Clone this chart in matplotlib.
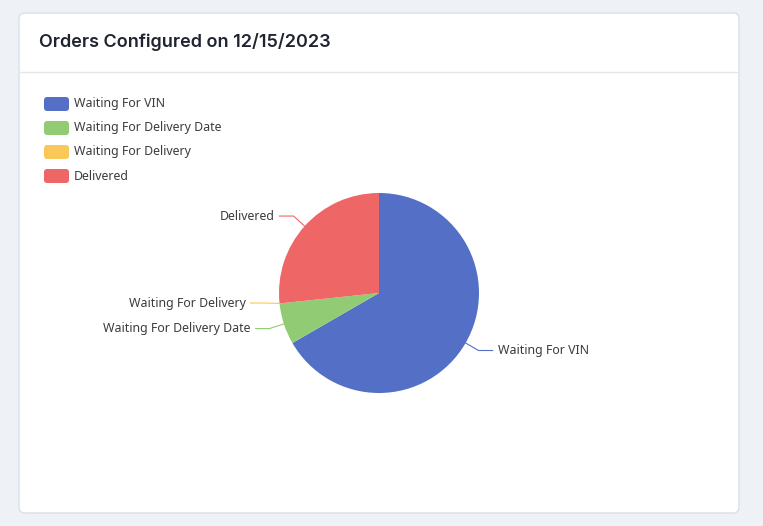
import numpy as np
import matplotlib
matplotlib.use('Agg')
import matplotlib.pyplot as plt
from matplotlib.patches import FancyBboxPatch

# dados do grafico
categorias = ['Waiting For VIN', 'Waiting For Delivery Date', 'Waiting For Delivery', 'Delivered']
valores = [20, 2, 0, 8]
cores = ['#5470c6', '#91cc75', '#fac858', '#ee6666']
titulo = 'Orders Configured on 12/15/2023'

W, H = 763, 526
fig = plt.figure(figsize=(W / 100, H / 100), dpi=100)
fig.patch.set_facecolor('#eef1f5')
ax = fig.add_axes([0, 0, 1, 1])
ax.set_xlim(0, W)
ax.set_ylim(0, H)
ax.set_aspect('equal')
ax.axis('off')


def py(y):
    # converte y de pixel (topo) para coordenada do eixo
    return H - y


# cartao
card = FancyBboxPatch((19, py(513)), 720, 500, boxstyle='round,pad=0,rounding_size=6',
                      facecolor='white', edgecolor='#dcdfe6', linewidth=1, zorder=1)
ax.add_patch(card)
ax.plot([19.5, 738.5], [py(72), py(72)], color='#e4e7ec', linewidth=1, zorder=2)
ax.text(39, py(42), titulo, fontsize=13, fontweight='semibold', family='Inter',
        color='#1f2430', va='center', ha='left', zorder=3)

# legenda
for i, (cat, cor) in enumerate(zip(categorias, cores)):
    yc = 104 + i * 24
    leg = FancyBboxPatch((44, py(yc + 7)), 25, 14, boxstyle='round,pad=0,rounding_size=3',
                         facecolor=cor, edgecolor='none', zorder=3)
    ax.add_patch(leg)
    ax.text(74, py(yc), cat, fontsize=8.9, family='Noto Sans', color='#3c3c3c',
            va='center', ha='left', zorder=3)

# pizza
cx, cy, r = 379, 293, 100
ax.pie(valores, colors=cores, startangle=90, counterclock=False, radius=r,
       center=(cx, py(cy)), frame=True, wedgeprops=dict(linewidth=0, zorder=4))
ax.set_xlim(0, W)
ax.set_ylim(0, H)
ax.axis('off')

# linhas de rotulo
total = sum(valores)
acum = 0
ajuste_y = {'Waiting For VIN': 0, 'Waiting For Delivery Date': 0,
            'Waiting For Delivery': -2, 'Delivered': 0}
for cat, v, cor in zip(categorias, valores, cores):
    meio = (acum + v / 2) / total * 360
    acum += v
    ang = np.deg2rad(meio)
    dx, dy = np.sin(ang), -np.cos(ang)
    x0, y0 = cx + dx * r, cy + dy * r
    x1, y1 = cx + dx * (r + 15), cy + dy * (r + 15) + ajuste_y[cat]
    lado = 1 if dx > 0 else -1
    x2 = x1 + lado * 14
    ax.plot([x0, x1, x2], [py(y0), py(y1), py(y1)], color=cor, linewidth=0.8, zorder=5)
    ax.text(x2 + lado * 5, py(y1), cat, fontsize=8.9, family='Noto Sans', color='#3c3c3c',
            va='center', ha='left' if lado > 0 else 'right', zorder=5)

fig.savefig('out.png', dpi=100)
